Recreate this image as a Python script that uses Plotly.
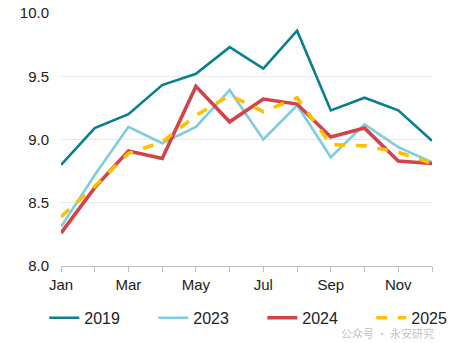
import plotly.graph_objects as go

months = ["Jan", "Feb", "Mar", "Apr", "May", "Jun", "Jul", "Aug", "Sep", "Oct", "Nov", "Dec"]
tick_labels = ["Jan", "", "Mar", "", "May", "", "Jul", "", "Sep", "", "Nov", ""]
y2019 = [8.80, 9.09, 9.20, 9.43, 9.52, 9.73, 9.56, 9.86, 9.23, 9.33, 9.23, 8.99]
y2023 = [8.31, 8.72, 9.10, 8.97, 9.10, 9.39, 9.00, 9.27, 8.86, 9.12, 8.94, 8.82]
y2024 = [8.26, 8.62, 8.91, 8.85, 9.42, 9.14, 9.32, 9.28, 9.02, 9.09, 8.83, 8.81]
y2025 = [8.39, 8.63, 8.89, 8.98, 9.19, 9.35, 9.22, 9.33, 8.96, 8.95, 8.90, 8.81]

x = list(range(len(months)))

fig = go.Figure()
series = [
    ("2019", y2019, "#0A7F8F", 2.6, "solid"),
    ("2023", y2023, "#7ECCE0", 2.6, "solid"),
    ("2024", y2024, "#D0444A", 3.6, "solid"),
    ("2025", y2025, "#FFC000", 3.6, "dash"),
]
for name, ys, color, w, dash in series:
    fig.add_trace(go.Scatter(x=x, y=ys, name=name, mode="lines",
                             line=dict(color=color, width=w, dash=dash)))

fig.update_layout(
    width=451, height=343,
    margin=dict(l=61, r=19, t=13, b=77, autoexpand=False),
    paper_bgcolor="white", plot_bgcolor="white",
    font=dict(family="Liberation Sans, Arial", size=15, color="#222"),
    showlegend=True,
    legend=dict(orientation="h", x=-0.045, xanchor="left", y=-0.205, yanchor="middle",
                entrywidth=64, entrywidthmode="pixels", font=dict(size=16),
                tracegroupgap=0),
    annotations=[dict(text="公众号 · 永安研究", xref="paper", yref="paper", x=1.01, y=-0.265,
                      xanchor="right", yanchor="middle", showarrow=False,
                      font=dict(family="Noto Sans CJK SC", size=11, color="rgba(150,150,150,0.6)"))],
)
fig.update_xaxes(range=[0, 11], tickvals=x, ticktext=tick_labels, showgrid=False,
                 showline=True, linecolor="#bfbfbf", linewidth=1, automargin=False,
                 ticks="outside", ticklen=5, tickcolor="#bfbfbf", zeroline=False)
fig.update_yaxes(range=[8.0, 10.0], dtick=0.5, tickformat=".1f", showgrid=True,
                 gridcolor="#e8e8e8", gridwidth=1, zeroline=False, showline=False,
                 automargin=False,
                 ticks="outside", ticklen=8, tickcolor="rgba(0,0,0,0)")

fig.write_html("out.html")
